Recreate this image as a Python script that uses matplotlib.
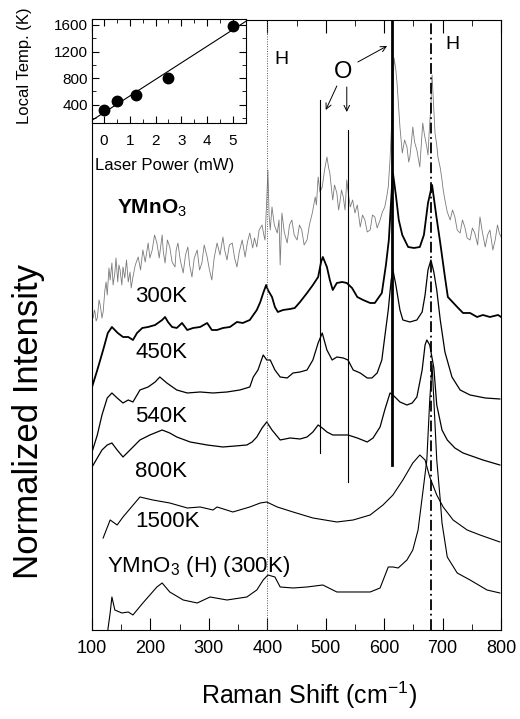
import numpy as np
import matplotlib
matplotlib.use("Agg")
import matplotlib.pyplot as plt
from matplotlib.ticker import MultipleLocator

plt.rcParams['font.family'] = ['Liberation Sans', 'DejaVu Sans']
plt.rcParams['mathtext.fontset'] = 'custom'
plt.rcParams['mathtext.rm'] = 'Liberation Sans'

# inset: laser power vs local temperature
laser_power = [0, 0.5, 1.25, 2.5, 5]
local_temp = [320, 460, 545, 800, 1590]

# spectra, Raman shift (cm-1) and stacked intensity (a.u.)
shift_300 = [100, 102, 104, 105, 107, 109, 112, 114, 117, 119, 122, 124, 126, 129, 131, 134, 136, 139, 141, 144,
             146, 148, 151, 153, 156, 159, 162, 165, 167, 170, 174, 179, 183, 187, 191, 196, 199, 203, 207, 211,
             215, 220, 222, 225, 229, 233, 237, 242, 244, 247, 251, 256, 260, 264, 267, 271, 275, 280, 284, 288,
             292, 297, 301, 305, 309, 314, 319, 324, 327, 331, 335, 340, 344, 348, 352, 357, 360, 362, 366, 370,
             375, 378, 382, 386, 391, 394, 396, 399, 401, 403, 405, 408, 412, 417, 420, 422, 425, 429, 434, 438,
             442, 446, 451, 455, 459, 463, 468, 472, 477, 482, 484, 487, 490, 494, 498, 502, 505, 507, 510, 512,
             515, 519, 522, 524, 527, 530, 533, 536, 539, 542, 546, 550, 554, 559, 563, 567, 571, 576, 580, 584,
             588, 593, 597, 601, 604, 607, 610, 613, 617, 620, 622, 625, 627, 631, 635, 639, 642, 644, 647, 649,
             652, 656, 659, 661, 664, 666, 669, 673, 675, 677, 680, 682, 685, 687, 690, 692, 696, 699, 701, 704,
             708, 713, 717, 721, 725, 730, 734, 738, 742, 747, 751, 755, 760, 764, 768, 773, 777, 781, 786, 790,
             794, 797, 800]
int_300 = [313, 312, 320, 318, 309, 312, 330, 325, 312, 318, 340, 348, 335, 362, 350, 367, 345, 357, 372, 348,
           365, 360, 345, 363, 352, 370, 348, 358, 342, 353, 365, 373, 360, 380, 368, 387, 372, 380, 395, 387,
           372, 395, 378, 367, 390, 383, 368, 363, 380, 387, 370, 357, 375, 383, 365, 353, 372, 380, 360, 367,
           385, 373, 360, 350, 372, 387, 375, 393, 380, 370, 385, 387, 372, 363, 378, 390, 380, 373, 388, 397,
           382, 392, 383, 400, 405, 395, 390, 430, 460, 415, 400, 423, 405, 397, 410, 365, 417, 398, 387, 405,
           410, 395, 390, 405, 400, 385, 390, 405, 417, 433, 425, 453, 438, 443, 460, 473, 462, 457, 440, 430,
           445, 437, 420, 427, 440, 433, 420, 450, 435, 423, 430, 417, 425, 403, 415, 410, 398, 400, 415, 413,
           402, 410, 418, 423, 432, 443, 470, 510, 572, 560, 547, 520, 503, 477, 490, 483, 468, 473, 490, 503,
           488, 480, 470, 463, 490, 507, 495, 483, 475, 497, 525, 555, 520, 497, 485, 473, 462, 450, 440, 430,
           418, 410, 420, 413, 400, 397, 410, 403, 392, 390, 402, 397, 385, 413, 398, 383, 395, 400, 380, 390,
           405, 397, 393]

shift_450 = [100, 109, 119, 127, 134, 139, 144, 153, 162, 170, 177, 186, 196, 208, 220, 225, 230, 237, 245, 254,
             263, 273, 285, 297, 305, 314, 324, 336, 348, 358, 370, 376, 382, 388, 393, 398, 401, 408, 413, 418,
             427, 439, 447, 456, 468, 478, 487, 492, 495, 502, 507, 512, 519, 528, 536, 545, 554, 564, 576, 584,
             596, 603, 608, 613, 615, 620, 625, 631, 641, 651, 661, 668, 675, 682, 689, 696, 704, 709, 725, 735,
             747, 759, 769, 781, 795, 800]
int_450 = [243, 260, 280, 297, 303, 300, 297, 293, 293, 290, 297, 302, 303, 305, 310, 313, 308, 303, 302, 307,
           300, 302, 303, 307, 300, 300, 302, 303, 308, 307, 310, 315, 320, 328, 337, 345, 340, 333, 323, 318,
           320, 321, 322, 328, 337, 345, 353, 368, 373, 363, 350, 340, 347, 348, 347, 342, 333, 330, 327, 327,
           337, 365, 390, 440, 457, 435, 410, 395, 383, 382, 383, 395, 427, 445, 415, 387, 353, 333, 323, 317,
           317, 313, 315, 313, 315, 313]

shift_540 = [100, 109, 117, 126, 134, 143, 153, 162, 170, 182, 196, 208, 216, 228, 245, 263, 285, 307, 331, 353,
             370, 376, 384, 393, 399, 405, 413, 422, 434, 444, 456, 468, 478, 487, 494, 502, 511, 519, 530, 538,
             547, 559, 571, 579, 588, 596, 601, 607, 612, 615, 620, 627, 632, 644, 656, 665, 670, 675, 680, 685,
             690, 696, 704, 716, 730, 747, 773, 798]
int_540 = [178, 195, 215, 232, 237, 232, 227, 230, 228, 240, 243, 248, 253, 247, 240, 237, 238, 237, 238, 240,
           243, 253, 260, 275, 270, 270, 260, 253, 252, 257, 258, 260, 270, 287, 297, 280, 270, 273, 272, 270,
           260, 257, 252, 252, 257, 270, 293, 320, 350, 360, 345, 320, 310, 308, 310, 318, 335, 360, 370, 358,
           340, 310, 278, 253, 240, 235, 232, 231]

shift_800 = [100, 109, 117, 126, 134, 143, 153, 165, 182, 199, 220, 233, 245, 268, 297, 324, 345, 365, 374, 382,
             391, 399, 408, 422, 439, 456, 468, 478, 487, 494, 502, 512, 538, 554, 571, 581, 593, 601, 610, 615,
             627, 639, 648, 656, 665, 670, 673, 678, 685, 690, 699, 708, 721, 735, 769, 798]
int_800 = [163, 172, 180, 185, 187, 180, 173, 180, 190, 195, 200, 197, 193, 188, 185, 183, 184, 185, 188, 193,
           202, 208, 200, 190, 192, 191, 193, 198, 205, 202, 198, 195, 195, 192, 188, 192, 203, 220, 237, 235,
           228, 225, 227, 233, 260, 285, 290, 285, 262, 225, 200, 190, 182, 177, 170, 165]

shift_1500 = [119, 131, 143, 153, 182, 204, 233, 263, 285, 307, 314, 341, 370, 388, 399, 417, 444, 478, 519, 547,
              576, 598, 615, 632, 649, 661, 670, 678, 690, 701, 718, 742, 764, 798]
int_1500 = [92, 110, 105, 113, 133, 130, 127, 122, 123, 120, 123, 118, 123, 127, 128, 123, 118, 112, 108, 110,
            115, 125, 135, 150, 167, 175, 170, 153, 135, 123, 110, 100, 95, 88]

shift_hex = [127, 131, 134, 139, 151, 162, 170, 187, 211, 220, 233, 256, 280, 302, 331, 365, 382, 393, 401, 413,
             422, 444, 468, 495, 519, 547, 576, 593, 607, 615, 624, 639, 649, 658, 666, 673, 678, 682, 685, 690,
             696, 699, 708, 725, 747, 776, 798]
int_hex = [0, 17, 33, 20, 17, 18, 15, 27, 43, 47, 38, 30, 27, 33, 30, 33, 40, 50, 55, 53,
           43, 42, 43, 45, 38, 38, 38, 42, 63, 63, 62, 70, 80, 100, 137, 170, 230, 265, 230, 170,
           130, 107, 73, 57, 50, 40, 37]

spectra_labels = ["300K", "450K", "540K", "800K", "1500K"]

# mode lines: H (hexagonal) and O (orthorhombic)
mode_dotted = 400
mode_o = [490, 538]
mode_o_span = [(177, 530), (148, 500)]
mode_o_strong = 613
mode_h = 681

fig = plt.figure(figsize=(5.2, 7.19), dpi=100)
ax = fig.add_axes([0.177, 0.1238, 0.7865, 0.8484])

ax.plot(shift_300, int_300, color="#7a7a7a", lw=0.6)
ax.plot(shift_450, int_450, color="black", lw=1.3)
ax.plot(shift_540, int_540, color="black", lw=0.9)
ax.plot(shift_800, int_800, color="black", lw=0.9)
ax.plot(shift_1500, int_1500, color="black", lw=0.8)
ax.plot(shift_hex, int_hex, color="black", lw=0.8)

ax.axvline(mode_dotted, color="#555555", lw=0.7, ls=(0, (1, 1.5)))
for xm, (y0, y1) in zip(mode_o, mode_o_span):
    ax.plot([xm, xm], [y0, y1], color="black", lw=0.8)
ax.plot([mode_o_strong, mode_o_strong], [165, 610], color="black", lw=2.0)
ax.axvline(mode_h, color="black", lw=1.3, ls=(0, (6, 2, 1, 2)))

ax.set_xlim(100, 800)
ax.set_ylim(0, 610)
ax.set_yticks([])
ax.xaxis.set_major_locator(MultipleLocator(100))
ax.xaxis.set_minor_locator(MultipleLocator(50))
ax.tick_params(axis="x", which="major", direction="in", length=9, top=True, labelsize=13, pad=7)
ax.tick_params(axis="x", which="minor", direction="in", length=4.5, top=True)

ax.set_xlabel("Raman Shift (cm$^{-1}$)", fontsize=18)
ax.xaxis.set_label_coords(0.53, -0.082)
ax.set_ylabel("Normalized Intensity", fontsize=25)
ax.yaxis.set_label_coords(-0.115, 0.341)

# labels
ax.text(143, 422, "YMnO$_3$", fontsize=15, fontweight="bold", va="center")
for lab, yl in zip(spectra_labels, [333, 277, 213, 158, 108]):
    ax.text(174, yl, lab, fontsize=16, va="center")
ax.text(126, 63, "YMnO$_3$ (H) (300K)", fontsize=16, va="center")

ax.text(425, 570, "H", fontsize=14, ha="center", va="center")
ax.text(716, 585, "H", fontsize=14, ha="center", va="center")
ax.text(530, 558, "O", fontsize=17, ha="center", va="center")
arr = dict(arrowstyle="->", lw=0.7, color="black", shrinkA=0, shrinkB=0)
ax.annotate("", xy=(500, 520), xytext=(519, 544), arrowprops=arr)
ax.annotate("", xy=(536, 518), xytext=(536, 543), arrowprops=arr)
ax.annotate("", xy=(605, 584), xytext=(555, 568), arrowprops=arr)

# inset
ax_in = fig.add_axes([0.177, 0.829, 0.296, 0.1446])
fit = np.polyfit(laser_power, local_temp, 1)
xf = np.array([-0.46, 5.5])
ax_in.plot(xf, np.polyval(fit, xf), color="black", lw=0.8)
ax_in.plot(laser_power, local_temp, "o", color="black", ms=7.5)
ax_in.set_xlim(-0.46, 5.5)
ax_in.set_ylim(125, 1690)
ax_in.xaxis.set_major_locator(MultipleLocator(1))
ax_in.xaxis.set_minor_locator(MultipleLocator(0.5))
ax_in.yaxis.set_major_locator(MultipleLocator(400))
ax_in.yaxis.set_minor_locator(MultipleLocator(200))
ax_in.tick_params(which="both", direction="in", top=True, right=True, labelsize=11)
ax_in.tick_params(which="major", length=5)
ax_in.tick_params(which="minor", length=3)
ax_in.tick_params(axis="x", pad=8)
ax_in.tick_params(axis="y", pad=3)
ax_in.set_xlabel("Laser Power (mW)", fontsize=12)
ax_in.xaxis.set_label_coords(0.474, -0.337)
ax_in.set_ylabel("Local Temp. (K)", fontsize=12)
ax_in.yaxis.set_label_coords(-0.39, 0.548)

plt.savefig("out.png", dpi=100)
